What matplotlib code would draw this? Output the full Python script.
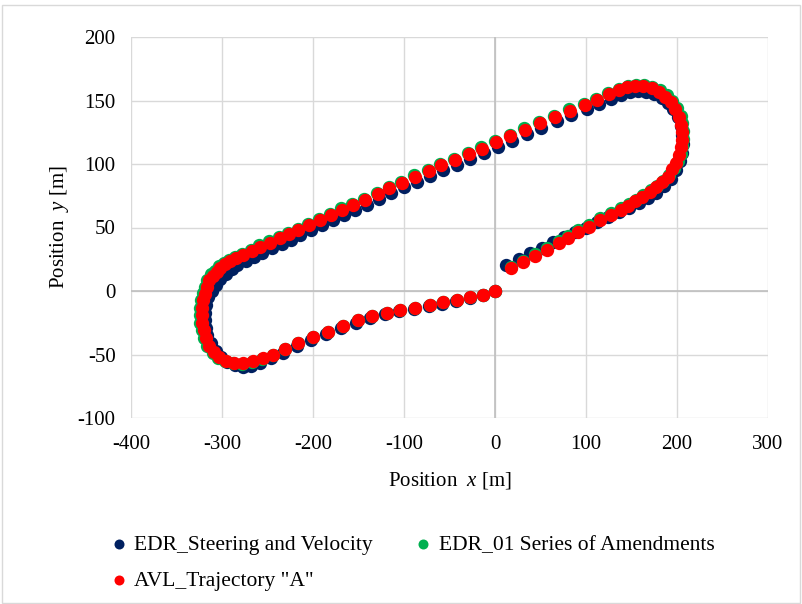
import matplotlib
matplotlib.use("Agg")
import matplotlib.pyplot as plt
from matplotlib.patches import Rectangle

# ---- data ----
red_x = [0, -13, -27, -42, -57, -71, -88, -104, -119, -135, -151, -167, -183, -200, -216, -231, -244, -255, -266, -277, -287,
         -296, -303, -309, -314, -318, -320, -322, -322, -322, -321, -319, -317, -314, -310, -306, -302, -297, -291, -285,
         -277, -267, -258, -247, -236, -226, -216, -204, -192, -180, -168, -156, -143, -129, -116, -102, -88, -73, -59, -44,
         -29, -14, 1, 17, 33, 49, 66, 82, 99, 112, 125, 136,
         145, 154, 163, 172, 180, 187, 193, 198, 202, 204, 205, 205, 204, 202, 199, 195, 190, 184, 177, 170, 162, 154, 146,
         139, 128, 115, 103, 91, 80, 70, 57, 44, 31, 18]
red_y = [0, -3, -4.5, -7, -9, -11, -13, -15, -17.5, -20, -23, -27.5, -32, -36.5, -41, -46, -50, -53, -55.5, -57, -56.5,
         -55, -52, -48, -43, -37, -31, -25, -19, -13, -7, -2, 3, 8.5, 12, 15, 18.5, 21, 23.5, 26,
         28.5, 31.5, 35, 38, 41.5, 44.6, 48, 52, 56, 60, 64, 67.7, 71.7, 76, 81, 85, 90, 94.5, 99, 103,
         107.5, 112, 117, 122, 127, 132, 137, 142, 146.5, 150.5, 155, 158,
         160.5, 161.5, 161.5, 159.5, 157, 153, 148.5, 143, 137, 131, 125, 119, 113, 107, 101, 96, 90, 85.5, 81.5, 78, 74, 70.5, 67,
         64, 60, 56, 50.5, 46.5, 42, 37.5, 32, 27.5, 23, 18]

green_x = [0, -13, -27, -42, -57, -71, -88, -104, -119, -135, -151, -167, -183, -200, -216, -231, -244, -256, -267, -278, -288,
           -297, -304, -310, -316, -320, -322, -324, -324, -324, -323, -321, -319, -316, -312, -308, -303, -298, -292, -286,
           -278, -268, -259, -248, -237, -227, -217, -205, -193, -181, -169, -157, -144, -130, -117, -103, -89, -74, -60, -45,
           -30, -15, 0, 16, 32, 48, 65, 81, 98, 111, 124, 136,
           146, 155, 164, 173, 181, 189, 195, 200, 204, 206, 207, 207, 206, 204, 201, 197, 191, 185, 178, 171, 163, 155, 147,
           139, 128, 115, 103, 91, 80, 70, 57, 44, 31, 18]
green_y = [0, -3, -4.5, -7, -9, -11, -13, -15, -17.5, -20, -23, -27.5, -32, -36.5, -41, -46, -50, -53.5, -56, -57.5, -57,
           -55.5, -52.5, -48.5, -43, -37, -31, -25, -19, -13, -7, -1.5, 3.5, 9, 13, 16, 19.5, 22, 24.5, 27,
           29.5, 32.5, 36, 39, 42.5, 45.6, 49, 53, 57, 61, 65, 68.7, 72.7, 77, 82, 86, 91, 95.5, 100, 104,
           108.5, 113, 118, 123, 128, 133, 138, 143, 147.5, 151.5, 156, 159,
           161.5, 162.5, 162.5, 160.5, 158, 154, 149.5, 144, 138, 132, 126, 120, 114, 108, 102, 97, 91.5, 87, 83, 79.5, 75.5, 72, 68.5,
           65.5, 61.5, 57.5, 52, 48, 43.5, 39, 33.5, 29, 24, 19]

blue_x = [0, -13, -28, -43, -58, -73, -89, -105, -121, -137, -153, -169, -186, -202, -218, -233, -246, -258, -268, -277, -286,
          -294, -301, -307, -312, -316, -318, -319, -319, -318, -315, -311, -307, -302, -296, -289, -283,
          -274, -265, -256, -245, -234, -224, -214, -202, -190, -178, -166, -154, -141, -127, -114, -100, -86, -71, -57, -42,
          -27, -12, 3, 19, 35, 51, 68, 84, 101, 114, 127, 138,
          148, 157, 166, 175, 183, 190, 196, 201, 204, 206, 207, 206, 203, 199, 193, 186, 177, 168, 158, 147,
          136, 124, 112, 100, 88, 76, 64, 52, 39, 26, 12]
blue_y = [0, -3, -5.5, -8, -10, -12, -14, -16, -18.5, -21.5, -25, -29.5, -34, -38.5, -43.5, -48.5, -53, -56.5, -59, -59.5, -58.5,
          -56, -52, -47, -41, -35, -29, -23, -17, -11, -5, 0, 5, 9.5, 13.5, 17.5, 20.5,
          23.5, 27, 30, 33.5, 37, 40.5, 44, 48, 52, 56, 60, 64, 68, 72.5, 77, 81.5, 86, 90.5, 95, 99.5,
          104, 108.5, 113.5, 118.5, 123.5, 128.5, 133.5, 138.5, 143, 147, 151, 154,
          156.5, 157.5, 157, 155, 152, 148, 143, 137, 130, 123, 116, 109, 102, 95, 88.5, 82.5, 77.5, 73, 69, 65.5,
          62, 58, 54, 50, 46.5, 42.5, 38.5, 34, 30, 25.5, 20.5]

series_names = ["EDR_Steering and Velocity", "EDR_01 Series of Amendments", 'AVL_Trajectory "A"']
colors = ["#002060", "#00B050", "#FF0000"]
x_ticks = [-400, -300, -200, -100, 0, 100, 200, 300]
y_ticks = [-100, -50, 0, 50, 100, 150, 200]

# ---- style ----
plt.rcParams['font.family'] = ['Liberation Serif', 'DejaVu Serif']
plt.rcParams['mathtext.fontset'] = 'custom'
plt.rcParams['mathtext.rm'] = 'Liberation Serif'
plt.rcParams['mathtext.it'] = 'Liberation Serif:italic'
plt.rcParams['axes.unicode_minus'] = False

FS = 15
LFS = 15.5

fig = plt.figure(figsize=(8.03, 6.04), dpi=100)
fig.patch.set_facecolor('white')
fig.patches.append(Rectangle((0.002, 0.002), 0.994, 0.99, transform=fig.transFigure,
                             fill=False, edgecolor='#d9d9d9', linewidth=1.0))

ax = fig.add_axes([131/803, 1-418/604, (768-131)/803, (418-37)/604])
ax.set_xlim(-400, 300)
ax.set_ylim(-100, 200)
ax.set_xticks(x_ticks)
ax.set_yticks(y_ticks)
ax.grid(True, color='#d9d9d9', linewidth=1.0)
ax.set_axisbelow(True)
for s in ax.spines.values():
    s.set_visible(False)
ax.axvline(0, color='#bfbfbf', linewidth=1.2, zorder=1)
ax.axhline(0, color='#bfbfbf', linewidth=1.2, zorder=1)
ax.tick_params(axis='y', length=0, labelsize=FS, pad=11, colors='black')
ax.tick_params(axis='x', length=0, labelsize=FS, pad=12, colors='black')

ms = 92
h_blue = ax.scatter(blue_x, blue_y, s=ms, color=colors[0], label=series_names[0], zorder=3, linewidths=0)
h_green = ax.scatter(green_x, green_y, s=ms, color=colors[1], label=series_names[1], zorder=4, linewidths=0)
h_red = ax.scatter(red_x, red_y, s=ms, color=colors[2], label=series_names[2], zorder=5, linewidths=0)

ax.set_xlabel(r'Position  $\mathit{x}$ [m]', fontsize=FS, labelpad=12)
ax.set_ylabel(r'Position  $\mathit{y}$ [m]', fontsize=FS, labelpad=4.5)

leg = fig.legend([h_blue, h_red, h_green], [series_names[0], series_names[2], series_names[1]],
                 loc='upper left', bbox_to_anchor=(108/803, 1-535/604), ncol=2, frameon=False,
                 fontsize=LFS, markerscale=0.75, handletextpad=0.22, columnspacing=1.85,
                 handlelength=1.0, labelspacing=0.72, borderaxespad=0, borderpad=0)

fig.savefig('out.png', dpi=100)
